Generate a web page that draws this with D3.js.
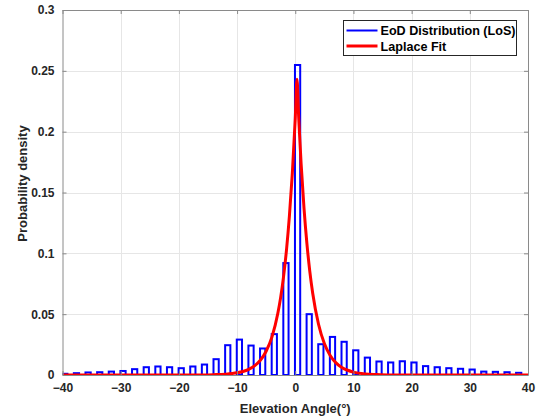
<!DOCTYPE html>
<html>
<head>
<meta charset="utf-8">
<script src="https://cdn.jsdelivr.net/npm/d3@7"></script>
<style>
  html, body { margin: 0; padding: 0; background: #fff; }
  svg { display: block; font-family: Arial, "Liberation Sans", sans-serif; }
</style>
</head>
<body>
<svg id="chart" width="538" height="419"></svg>
<script>
// === Data ===
// histogram bin centres (deg) and probability density per bin
const binCenters = [-39.6, -37.6, -35.6, -33.6, -31.6, -29.6, -27.6, -25.6, -23.6, -21.6,
                    -19.6, -17.6, -15.6, -13.6, -11.6, -9.6, -7.6, -5.6, -3.6, -1.6,
                    0.4, 2.4, 4.4, 6.4, 8.4, 10.4, 12.4, 14.4, 16.4, 18.4,
                    20.4, 22.4, 24.4, 26.4, 28.4, 30.4, 32.4, 34.4, 36.4, 38.4];
const binDensity = [0.0010, 0.0015, 0.0021, 0.0023, 0.0028, 0.0033, 0.0048, 0.0064, 0.0070, 0.0064,
                    0.0056, 0.0070, 0.0086, 0.0130, 0.0245, 0.0291, 0.0242, 0.0218, 0.0336, 0.0920,
                    0.2548, 0.0500, 0.0253, 0.0313, 0.0273, 0.0203, 0.0143, 0.0111, 0.0103, 0.0113,
                    0.0103, 0.0073, 0.0064, 0.0056, 0.0051, 0.0045, 0.0028, 0.0026, 0.0023, 0.0018];
const binWidthDeg = 0.9;

// Laplace fit curve
const fitX = [-40, -30, -20, -16, -14, -12, -10, -9, -8, -7, -6, -5, -4, -3, -2.5, -2, -1.5, -1, -0.5,
              0, 0.3, 0.6, 1, 1.5, 2, 2.5, 3, 4, 5, 6, 7, 8, 9, 10, 12, 14, 16, 20, 30, 40];
const fitY = [0, 0, 0, 0.0001, 0.0003, 0.0007, 0.0018, 0.0029, 0.0047, 0.0075, 0.0121, 0.0195, 0.0313,
              0.0505, 0.064, 0.0813, 0.1031, 0.1309, 0.166, 0.2107, 0.243, 0.2107, 0.1741, 0.1373,
              0.1082, 0.0852, 0.0672, 0.0417, 0.0259, 0.0161, 0.01, 0.0062, 0.0039, 0.0024, 0.0009,
              0.0004, 0.0001, 0, 0, 0];

const xTicks = [-40, -30, -20, -10, 0, 10, 20, 30, 40];
const yTicks = [0, 0.05, 0.1, 0.15, 0.2, 0.25, 0.3];
const legendLabels = ['EoD Distribution (LoS)', 'Laplace Fit'];
const seriesColors = ['#0000ff', '#ff0000'];

// === Layout ===
const margin = { left: 62.5, right: 10, top: 10, bottom: 44 };
const W = 538, H = 419;
const svg = d3.select('#chart');

const x = d3.scaleLinear().domain([-40, 40]).range([margin.left, W - margin.right]);
const y = d3.scaleLinear().domain([0, 0.3]).range([H - margin.bottom, margin.top]);

const [x0, x1] = x.range();
const [y0, y1] = y.range(); // y0 bottom, y1 top

svg.append('defs').append('clipPath').attr('id', 'plotclip')
  .append('rect').attr('x', x0).attr('y', y1).attr('width', x1 - x0).attr('height', y0 - y1);

// grid
const grid = svg.append('g').attr('stroke', '#e6e6e6').attr('stroke-width', 1);
grid.selectAll('.gx').data(xTicks.slice(1, -1)).join('line')
  .attr('x1', d => Math.round(x(d)) + 0.5).attr('x2', d => Math.round(x(d)) + 0.5)
  .attr('y1', y1).attr('y2', y0);
grid.selectAll('.gy').data(yTicks.slice(1, -1)).join('line')
  .attr('x1', x0).attr('x2', x1)
  .attr('y1', d => Math.round(y(d)) + 0.5).attr('y2', d => Math.round(y(d)) + 0.5);

// bars
const plot = svg.append('g').attr('clip-path', 'url(#plotclip)');
const bw = x(binWidthDeg) - x(0);
plot.selectAll('rect.bar')
  .data(binCenters.map((c, i) => ({ c, v: binDensity[i] })))
  .join('rect')
  .attr('class', 'bar')
  .attr('x', d => x(d.c) - bw / 2)
  .attr('width', bw)
  .attr('y', d => y(d.v))
  .attr('height', d => y(0) - y(d.v))
  .attr('fill', 'none')
  .attr('stroke', seriesColors[0])
  .attr('stroke-width', 2);

// fit line
const line = d3.line().x(d => x(d[0])).y(d => y(d[1])).curve(d3.curveMonotoneX);
plot.append('path')
  .datum(fitX.map((v, i) => [v, fitY[i]]))
  .attr('d', line)
  .attr('fill', 'none')
  .attr('stroke', seriesColors[1])
  .attr('stroke-width', 3)
  .attr('stroke-linejoin', 'round');

// axes (box with inward ticks)
const axisColor = '#8a8a8a';
const tickLen = 4;
const fmtY = d => (d === 0 ? '0' : String(+d.toFixed(2)));

const xAxisB = d3.axisBottom(x).tickValues(xTicks).tickSizeInner(-tickLen).tickSizeOuter(0).tickPadding(8);
const xAxisT = d3.axisTop(x).tickValues(xTicks).tickSizeInner(-tickLen).tickSizeOuter(0).tickFormat('');
const yAxisL = d3.axisLeft(y).tickValues(yTicks).tickSizeInner(-tickLen).tickSizeOuter(0).tickPadding(8).tickFormat(fmtY);
const yAxisR = d3.axisRight(y).tickValues(yTicks).tickSizeInner(-tickLen).tickSizeOuter(0).tickFormat('');

function style(g) {
  g.selectAll('path.domain').attr('stroke', axisColor);
  g.selectAll('.tick line').attr('stroke', axisColor);
  g.selectAll('.tick text').attr('fill', '#262626').attr('font-size', 12).attr('font-weight', 'bold')
    .attr('font-family', 'Arial, "Liberation Sans", sans-serif');
}
svg.append('g').attr('transform', `translate(0,${y0})`).call(xAxisB).call(style);
svg.append('g').attr('transform', `translate(0,${y1})`).call(xAxisT).call(style);
svg.append('g').attr('transform', `translate(${x0},0)`).call(yAxisL).call(style);
svg.append('g').attr('transform', `translate(${x1},0)`).call(yAxisR).call(style);

// axis labels
svg.append('text')
  .attr('x', (x0 + x1) / 2).attr('y', 412.5)
  .attr('text-anchor', 'middle').attr('font-size', 13).attr('font-weight', 'bold').attr('fill', '#262626')
  .text('Elevation Angle(°)');
svg.append('text')
  .attr('transform', `translate(27,${(y0 + y1) / 2 - 9}) rotate(-90)`)
  .attr('text-anchor', 'middle').attr('font-size', 13).attr('font-weight', 'bold').attr('fill', '#262626')
  .text('Probability density');

// legend
const lg = svg.append('g').attr('transform', 'translate(343.5,20.5)');
lg.append('rect').attr('width', 173).attr('height', 35)
  .attr('fill', '#fff').attr('stroke', '#262626').attr('stroke-width', 1);
legendLabels.forEach((lab, i) => {
  const yy = 10 + i * 15.5;
  lg.append('line').attr('x1', 3).attr('x2', 34).attr('y1', yy).attr('y2', yy)
    .attr('stroke', seriesColors[i]).attr('stroke-width', i === 0 ? 2 : 3);
  lg.append('text').attr('x', 37).attr('y', yy + 4.5)
    .attr('font-size', 12.6).attr('font-weight', 'bold').attr('fill', '#000')
    .text(lab);
});
</script>
</body>
</html>
